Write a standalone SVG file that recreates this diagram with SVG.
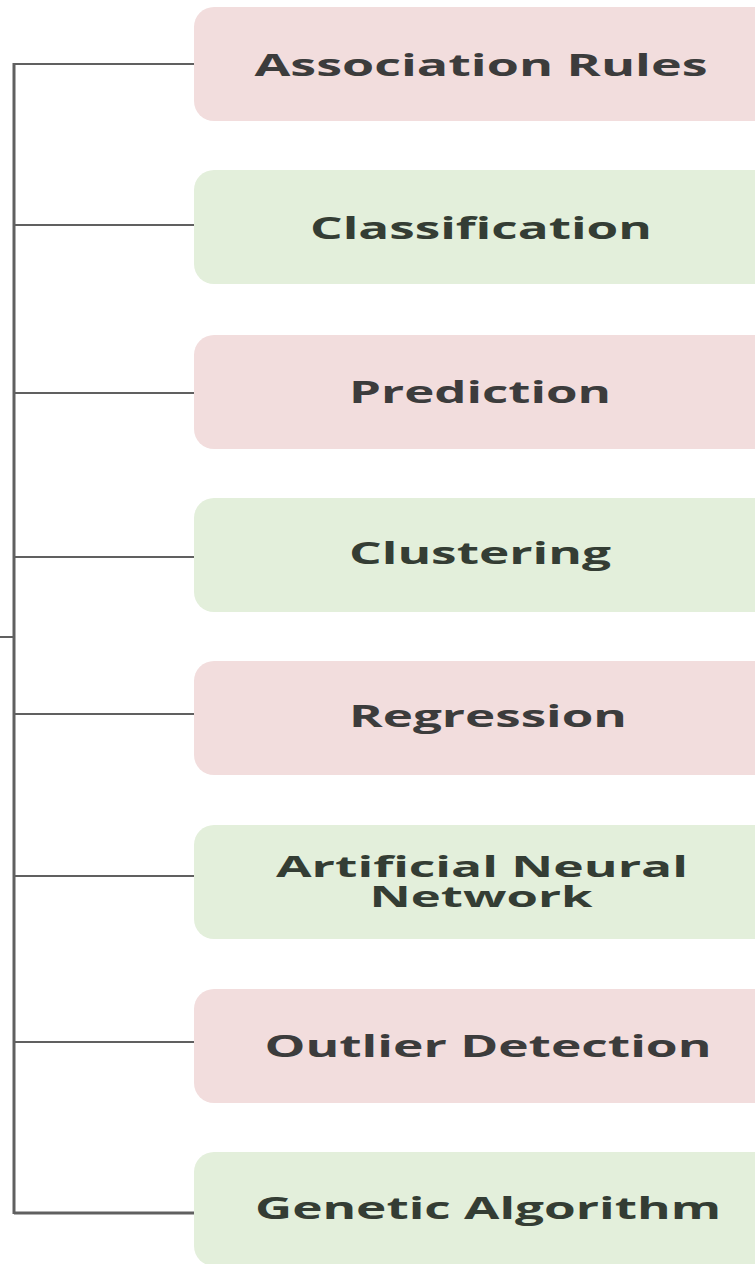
<svg xmlns="http://www.w3.org/2000/svg" width="755" height="1264" viewBox="0 0 755 1264">
<style>
.pink{fill:#f2dddd}
.green{fill:#e3efdb}
.lbl{font-family:"Open Sans","Liberation Sans",sans-serif;font-weight:700;font-size:31px;fill:#3c3c3c;text-anchor:middle}
.g .lbl{fill:#343d34}
.sm{font-size:29px}
.ln{stroke:#606060;fill:none}
</style>
<rect width="755" height="1264" fill="#ffffff"/>
<g id="connectors">
<line class="ln" x1="14" y1="63" x2="14" y2="1214" stroke-width="3"/>
<line class="ln" x1="0" y1="637" x2="14" y2="637" stroke-width="2"/>
<line class="ln" x1="14" y1="64" x2="195" y2="64" stroke-width="2"/>
<line class="ln" x1="14" y1="225" x2="195" y2="225" stroke-width="2"/>
<line class="ln" x1="14" y1="393" x2="195" y2="393" stroke-width="2"/>
<line class="ln" x1="14" y1="557" x2="195" y2="557" stroke-width="2"/>
<line class="ln" x1="14" y1="714" x2="195" y2="714" stroke-width="2"/>
<line class="ln" x1="14" y1="876" x2="195" y2="876" stroke-width="2"/>
<line class="ln" x1="14" y1="1042" x2="195" y2="1042" stroke-width="2"/>
<line class="ln" x1="14" y1="1213" x2="195" y2="1213" stroke-width="3"/>
</g>
<g id="n1"><rect class="pink" x="194" y="7" width="580" height="114" rx="20"/><text class="lbl" x="481" y="76" textLength="453" lengthAdjust="spacingAndGlyphs">Association Rules</text></g>
<g id="n2" class="g"><rect class="green" x="194" y="170" width="580" height="114" rx="20"/><text class="lbl" x="481" y="239" textLength="342" lengthAdjust="spacingAndGlyphs">Classification</text></g>
<g id="n3"><rect class="pink" x="194" y="335" width="580" height="114" rx="20"/><text class="lbl" x="480" y="403" textLength="262" lengthAdjust="spacingAndGlyphs">Prediction</text></g>
<g id="n4" class="g"><rect class="green" x="194" y="498" width="580" height="114" rx="20"/><text class="lbl" x="480" y="564" textLength="262" lengthAdjust="spacingAndGlyphs">Clustering</text></g>
<g id="n5"><rect class="pink" x="194" y="661" width="580" height="114" rx="20"/><text class="lbl" x="488" y="727" textLength="278" lengthAdjust="spacingAndGlyphs">Regression</text></g>
<g id="n6" class="g"><rect class="green" x="194" y="825" width="580" height="114" rx="20"/><text class="lbl sm" x="482" y="877" textLength="412" lengthAdjust="spacingAndGlyphs">Artificial Neural</text><text class="lbl sm" x="481" y="907" textLength="223" lengthAdjust="spacingAndGlyphs">Network</text></g>
<g id="n7"><rect class="pink" x="194" y="989" width="580" height="114" rx="20"/><text class="lbl" x="488" y="1057" textLength="447" lengthAdjust="spacingAndGlyphs">Outlier Detection</text></g>
<g id="n8" class="g"><rect class="green" x="194" y="1152" width="580" height="114" rx="20"/><text class="lbl" x="488" y="1219" textLength="466" lengthAdjust="spacingAndGlyphs">Genetic Algorithm</text></g>
</svg>
